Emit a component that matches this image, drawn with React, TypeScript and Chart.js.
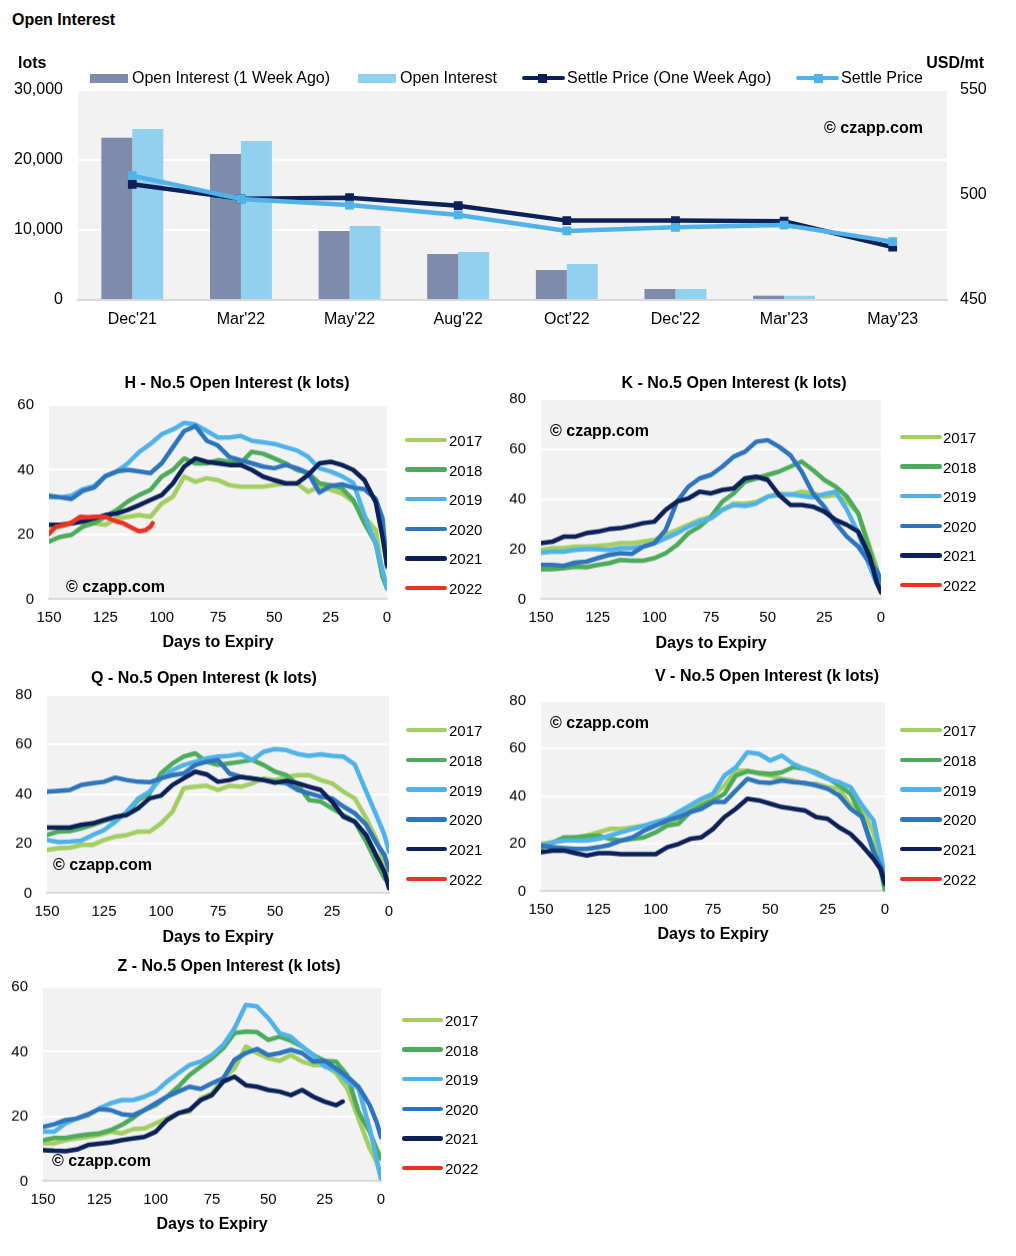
import React, { useEffect, useRef } from 'react';
import { Chart, registerables } from 'chart.js';

Chart.register(...registerables);

const FONT = "'Liberation Sans', Arial, Helvetica, sans-serif";
Chart.defaults.font.family = FONT;
Chart.defaults.color = '#000';

// ---------- Top chart data ----------
const contracts = ["Dec'21", "Mar'22", "May'22", "Aug'22", "Oct'22", "Dec'22", "Mar'23", "May'23"];
const oiWeekAgo = [23190, 20860, 9860, 6570, 4290, 1570, 620, 140];
const oiNow = [24430, 22710, 10570, 6860, 5140, 1570, 600, 140];
const settleWeekAgo = [505.1, 498.2, 498.7, 494.9, 487.8, 487.8, 487.5, 475.2];
const settleNow = [509.2, 498.1, 495.2, 490.5, 482.9, 484.6, 485.7, 477.8];

// ---------- Seasonal panels data ----------
const years = ['2017', '2018', '2019', '2020', '2021', '2022'];
const yearColors = ['#a3cf62', '#4eab5b', '#4fb3ea', '#2e75bd', '#0b2158', '#ec3323'];
const DAYS = [150, 145, 140, 135, 130, 125, 120, 115, 110, 105, 100, 95, 90, 85, 80, 75, 70, 65, 60, 55, 50, 45, 40, 35, 30, 25, 20, 15, 10, 5, 2, 0];

const H2017 = [21.4, 22.4, 23.5, 24, 23.5, 23, 25, 25.5, 26, 25.5, 29.6, 31.7, 37.9, 36.3, 37.4, 36.8, 35.3, 34.8, 34.8, 34.8, 35.3, 35.8, 35.8, 33.2, 34.8, 33.8, 32.7, 30.2, 25.5, 21.4, 8, 3.4];
const H2018 = [17.8, 19.3, 19.9, 22.4, 23.5, 25.5, 27.6, 30.2, 32.2, 33.8, 37.9, 40, 43.5, 42, 42, 43, 42.5, 42, 45.6, 45, 43.5, 42, 40, 39, 35.8, 35.3, 34.3, 30.7, 23.5, 17.3, 7, 3.4];
const H2019 = [31.5, 31.5, 32, 34, 35, 38, 39.5, 42, 45.5, 48, 51, 52.5, 54.5, 54, 52, 50, 50, 50.5, 49, 48.5, 48, 47, 46, 44, 40.5, 39.5, 38, 36, 26, 17, 9, 3.5];
const H2020 = [32, 31.5, 31, 33.5, 34.5, 38, 39.5, 40, 39.5, 39, 42, 47, 52, 53.5, 49, 47.5, 44, 43, 42, 41, 40.5, 41.5, 40.5, 39, 33, 35, 35.5, 34.5, 34, 31, 25, 10];
const H2021 = [23, 23, 23.5, 24, 25, 26, 26.5, 27.6, 29.1, 30.7, 32.2, 35.8, 41, 43.5, 42.5, 42, 41.5, 41.5, 40, 37.9, 36.8, 35.8, 35.8, 38.4, 42, 42.5, 41.5, 40, 36.8, 30, 19.3, 10.6];
const H2022_DAYS = [150, 147, 143, 140, 136, 133, 130, 125, 120, 117, 113, 110, 107, 105, 104];
const H2022 = [20.2, 22.4, 23, 23.7, 25.5, 25.3, 25.5, 25.5, 24, 23.5, 22, 21, 21.4, 22.4, 23.5];

const K2017 = [19.7, 20.4, 20.4, 21, 21, 21.3, 21.7, 22.4, 22.4, 23, 23.7, 25.7, 27.7, 29.7, 31.7, 33, 35.7, 38.3, 38.3, 39, 41, 42.3, 41.7, 43, 42.3, 41, 41.7, 39, 34.3, 21, 13, 5];
const K2018 = [12, 12, 12.4, 13, 12.8, 13.7, 14.4, 15.7, 15.4, 15.4, 16.4, 18.4, 21.7, 26.4, 29, 33, 39, 42.3, 47, 48.3, 49.7, 51, 53, 55, 51.6, 47.7, 45, 41, 34.3, 19.7, 10.4, 6.4];
const K2019 = [18.6, 19, 19, 19.7, 20, 20, 19.7, 20.4, 20.4, 21, 22.4, 24.4, 26.4, 29, 31, 32.3, 35.7, 37.7, 37.3, 38.3, 41, 41.7, 42, 41.3, 40.7, 42, 43, 35.7, 26.4, 13, 6.4, 3.7];
const K2020 = [13.7, 13.7, 13.3, 14.6, 15, 16.4, 17.7, 18.4, 18.1, 21, 22.4, 27.7, 39, 45, 48.3, 49.7, 53, 57, 59, 63, 63.6, 61, 57.6, 51, 42.3, 37, 30.4, 25, 21, 14.4, 11.7, 7.7];
const K2021 = [22.4, 23, 25, 25, 26.4, 27, 28, 28.4, 29.3, 30.4, 31, 35.7, 39, 40.3, 43, 42.3, 43.7, 44.3, 48.3, 49, 47.7, 41.7, 37.7, 37.7, 37, 35, 31.7, 29.7, 27, 17, 7, 2.7];

const Q2017 = [17.5, 18.2, 18.4, 19.5, 19.5, 21.5, 22.9, 23.5, 24.9, 24.9, 28.2, 32.9, 42.4, 43, 43.4, 41.7, 43.4, 43, 44.4, 46.4, 45.7, 47, 47.7, 47.7, 45.7, 44.4, 41, 38.3, 30.3, 20.8, 11.4, 6];
const Q2018 = [23.5, 24.9, 25.1, 26.2, 27.6, 29.2, 30.3, 32.3, 37.6, 40.3, 48.4, 52.4, 55.2, 56.5, 53.1, 51.8, 52.4, 53.1, 53.8, 51.8, 49.1, 47.7, 43.7, 37.6, 37, 34.3, 31.6, 28.9, 20.8, 11.4, 6, 4];
const Q2019 = [21.5, 20.6, 20.8, 21.2, 23.5, 25.5, 28.9, 32.9, 38.3, 41, 46.4, 49.7, 51.8, 53.1, 54.5, 55.2, 55.5, 56.2, 53.8, 57.1, 58.2, 57.8, 56.2, 55.5, 56.1, 55.5, 55.2, 52, 41, 30.3, 23.5, 16.8];
const Q2020 = [41, 41.3, 41.7, 43.7, 44.4, 45, 46.7, 45.7, 45, 44.8, 46.4, 47.7, 48.4, 51.8, 53.1, 53.8, 48.4, 47, 46.4, 45.7, 45, 44.4, 41.7, 40.3, 39, 38.3, 35, 32.3, 27.6, 19.5, 15.5, 9.4];
const Q2021 = [26.5, 26.5, 26.5, 27.6, 28.2, 29.6, 30.9, 31.6, 34.3, 38.3, 39.4, 43.7, 46.4, 49.1, 48, 45, 45.7, 47, 46.4, 45.7, 44.6, 45.4, 44.4, 43, 41.7, 37, 30.9, 28.9, 23.5, 14.1, 8.7, 2];

const V2017 = [19.9, 20.6, 21.3, 22.7, 23.4, 24.8, 26.2, 26.2, 26.9, 27.6, 27.9, 29.1, 30.5, 34.7, 37.5, 40.3, 44.5, 50.8, 50.8, 49.4, 48.7, 47.3, 46.6, 45.2, 45.2, 43.8, 43.1, 36.1, 34.7, 24.8, 12.2, 5.2];
const V2018 = [18.1, 20.4, 22.7, 22.7, 23.2, 23.4, 22, 21.3, 22, 22.7, 24.8, 27.6, 28.4, 33.3, 36.1, 38.2, 41, 48.7, 50.4, 49.8, 49.4, 50, 52.2, 51.5, 50, 47.6, 44.5, 41, 31.2, 17.8, 9.4, 0.3];
const V2019 = [19.2, 20.6, 21.3, 21.3, 21.3, 22, 23.4, 24.8, 26.2, 27.6, 29.1, 30.5, 33.3, 36.1, 38.9, 41, 48.7, 52.2, 58.5, 57.8, 55, 57.1, 53.6, 51.5, 49.4, 47.3, 45.9, 43.8, 36.1, 29.8, 16.4, 5.2];
const V2020 = [19.2, 18.5, 18.1, 17.8, 17.8, 18.5, 19.5, 21.3, 22.7, 25.5, 27.6, 29.8, 31.2, 33.3, 34.7, 37.5, 37.5, 42.4, 47.3, 45.9, 45.6, 46.6, 45.9, 45.6, 44.5, 43.1, 40.3, 34.7, 31.2, 16.4, 10.8, 5.2];
const V2021 = [16.4, 17.1, 17.1, 16, 15, 16, 16, 15.6, 15.6, 15.6, 15.6, 18.5, 19.9, 22, 22.7, 26.2, 31.2, 34.7, 38.9, 38.2, 36.8, 35.4, 34.7, 34, 31.2, 30.5, 26.9, 24.1, 19.2, 13.6, 9.4, 3.1];

const Z2017 = [11.7, 11.7, 12.7, 13.2, 13.7, 14.3, 15.3, 14.8, 16.1, 16.3, 17.9, 19.4, 21, 21.5, 25.6, 27.2, 31.8, 34.9, 41.6, 39.6, 38, 37.2, 39, 37, 35.9, 35.9, 33.4, 28.7, 19.4, 10.1, 6, 1.3];
const Z2018 = [12.7, 13.4, 13.4, 14, 14.5, 14.8, 15.8, 17.4, 19.6, 22, 23.5, 26.1, 29.2, 32.8, 35.4, 38, 41.1, 45.8, 46.3, 46.1, 43.7, 44.7, 43.4, 41.6, 39, 37.2, 37, 32.8, 21.5, 15.3, 10.1, 7];
const Z2019 = [15.3, 15.3, 17.9, 19.4, 20.4, 22.5, 24.1, 25.1, 25.1, 26.1, 27.7, 30.8, 33.4, 35.9, 37, 39, 42.1, 47.3, 54.5, 54, 50.4, 45.8, 44.7, 41.6, 39, 35.4, 34.4, 30.8, 28.7, 16.3, 7, 0.8];
const Z2020 = [16.8, 17.6, 18.9, 19.4, 20.7, 22.3, 22, 20.7, 20.4, 22, 24.1, 26.1, 27.7, 29.2, 28.5, 30.3, 31.8, 37.5, 39.6, 40.9, 39, 39.6, 40.6, 39.6, 37, 37.2, 34.9, 32.3, 29.2, 23.5, 18.4, 13.7];
const Z2021_DAYS = [150, 145, 140, 135, 130, 125, 120, 115, 110, 105, 100, 95, 90, 85, 80, 75, 70, 65, 60, 55, 50, 45, 40, 35, 30, 25, 20, 17];
const Z2021 = [9.6, 9.4, 9.3, 9.8, 11.2, 11.6, 12, 12.7, 13.2, 13.7, 15.3, 18.9, 21, 22, 25.1, 26.6, 30.8, 32.3, 29.7, 29.2, 28.2, 27.7, 26.6, 28.2, 26.1, 24.6, 23.5, 24.6];

type Series = { days: number[]; values: number[] } | null;
const toPts = (s: Series) => (s ? s.values.map((v, i) => ({ x: s.days[i], y: v })) : []);

const bgPlugin = {
  id: 'plotBg',
  beforeDraw(chart: any) {
    const { ctx, chartArea } = chart;
    if (!chartArea) return;
    ctx.save();
    ctx.fillStyle = '#f2f2f2';
    ctx.fillRect(chartArea.left, chartArea.top, chartArea.right - chartArea.left, chartArea.bottom - chartArea.top);
    ctx.restore();
  },
};

const Txt: React.FC<{ x: number; y: number; anchor?: 'left' | 'center' | 'right'; size?: number; bold?: boolean; children: React.ReactNode }> = ({ x, y, anchor = 'left', size = 15, bold = false, children }) => {
  const tx = anchor === 'left' ? '0' : anchor === 'center' ? '-50%' : '-100%';
  return (
    <div
      style={{
        position: 'absolute',
        left: x,
        top: y,
        transform: `translate(${tx}, -50%)`,
        fontSize: size,
        fontWeight: bold ? 'bold' : 'normal',
        fontFamily: FONT,
        lineHeight: 1,
        whiteSpace: 'nowrap',
        color: '#000',
      }}
    >
      {children}
    </div>
  );
};

function TopChart() {
  const ref = useRef<HTMLCanvasElement>(null);
  // chart area (page): left 78, right 947, top 90, bottom 300
  const padTop = 28;
  const canvasTop = 90 - padTop;
  const xAxisH = 36;
  const h = padTop + 210 + xAxisH;
  useEffect(() => {
    if (!ref.current) return;
    const chart = new Chart(ref.current, {
      type: 'bar',
      data: {
        labels: contracts,
        datasets: [
          { type: 'line', label: 'Settle Price', data: settleNow, yAxisID: 'y1', borderColor: '#4fb3ea', backgroundColor: '#4fb3ea', borderWidth: 4.5, pointStyle: 'rect', pointRadius: 6.2, pointBorderWidth: 0, tension: 0, order: 0 },
          { type: 'line', label: 'Settle Price (One Week Ago)', data: settleWeekAgo, yAxisID: 'y1', borderColor: '#0b2158', backgroundColor: '#0b2158', borderWidth: 4.5, pointStyle: 'rect', pointRadius: 6.2, pointBorderWidth: 0, tension: 0, order: 1 },
          { type: 'bar', label: 'Open Interest (1 Week Ago)', data: oiWeekAgo, yAxisID: 'y', backgroundColor: '#7f8bab', categoryPercentage: 0.57, barPercentage: 1, order: 2 },
          { type: 'bar', label: 'Open Interest', data: oiNow, yAxisID: 'y', backgroundColor: '#92d0ef', categoryPercentage: 0.57, barPercentage: 1, order: 2 },
        ] as any,
      },
      options: {
        animation: false,
        responsive: false,
        events: [],
        layout: { padding: { top: padTop, left: 0, right: 0, bottom: 0 } },
        plugins: { legend: { display: false }, tooltip: { enabled: false }, title: { display: false } },
        scales: {
          x: {
            grid: { display: false, drawTicks: false },
            border: { display: true, color: '#d9d9d9', width: 2 },
            ticks: { font: { size: 16 }, padding: 10, color: '#000', maxRotation: 0 },
            afterFit: (s: any) => { s.height = xAxisH; },
          },
          y: {
            position: 'left',
            min: 0,
            max: 30000,
            ticks: { stepSize: 10000, font: { size: 16 }, padding: 15, color: '#000', callback: (v: any) => Number(v).toLocaleString('en-US') },
            grid: { color: (c: any) => (c.tick && c.tick.value === 0 ? 'rgba(0,0,0,0)' : '#ffffff'), lineWidth: 2, drawTicks: false },
            border: { display: false },
            afterFit: (s: any) => { s.width = 78; },
          },
          y1: {
            position: 'right',
            min: 450,
            max: 550,
            ticks: { stepSize: 50, font: { size: 16 }, padding: 13, color: '#000' },
            grid: { display: false, drawTicks: false },
            border: { display: false },
            afterFit: (s: any) => { s.width = 1016 - 947; },
          },
        },
      } as any,
      plugins: [bgPlugin],
    });
    return () => chart.destroy();
  }, []);
  return <canvas ref={ref} width={1016} height={h} style={{ position: 'absolute', left: 0, top: canvasTop, width: 1016, height: h }} />;
}

type PanelProps = {
  title: string;
  plot: { l: number; r: number; t: number; b: number };
  yMax: number;
  titleX: number;
  titleY: number;
  axisTitleY: number;
  legend: { x0: number; x1: number; tx: number; y0: number; y1: number };
  copy: { x: number; y: number };
  series: Series[];
};

function Panel(p: PanelProps) {
  const ref = useRef<HTMLCanvasElement>(null);
  const yAxisW = 45;
  const padTop = 28;
  const padRight = 90;
  const padBottom = 4;
  const xAxisH = p.axisTitleY - p.plot.b + 9.6;
  const cw = yAxisW + (p.plot.r - p.plot.l) + padRight;
  const ch = padTop + (p.plot.b - p.plot.t) + xAxisH + padBottom;
  const cl = p.plot.l - yAxisW;
  const ct = p.plot.t - padTop;
  useEffect(() => {
    if (!ref.current) return;
    const datasets = p.series
      .map((s, i) => ({ s, i }))
      .filter(({ s }) => s !== null)
      .map(({ s, i }) => ({
        label: years[i],
        data: toPts(s),
        borderColor: yearColors[i],
        backgroundColor: yearColors[i],
        borderWidth: 4.5,
        pointRadius: 0,
        tension: 0,
        fill: false,
        borderCapStyle: 'round',
        borderJoinStyle: 'round',
        order: 5 - i,
      }));
    const chart = new Chart(ref.current, {
      type: 'line',
      data: { datasets: datasets as any },
      options: {
        animation: false,
        responsive: false,
        events: [],
        layout: { padding: { top: padTop, right: padRight, bottom: padBottom, left: 0 } },
        plugins: { legend: { display: false }, tooltip: { enabled: false }, title: { display: false } },
        scales: {
          x: {
            type: 'linear',
            reverse: true,
            min: 0,
            max: 150,
            ticks: { stepSize: 25, font: { size: 15 }, padding: 9, color: '#000', maxRotation: 0 },
            grid: { display: false, drawTicks: false },
            border: { display: true, color: '#d9d9d9', width: 2 },
            title: { display: true, text: 'Days to Expiry', font: { size: 16, weight: 'bold' }, color: '#000', padding: { top: 0, bottom: 0 } },
            afterFit: (s: any) => { s.height = xAxisH; },
          },
          y: {
            min: 0,
            max: p.yMax,
            ticks: { stepSize: 20, font: { size: 15 }, padding: 15, color: '#000' },
            grid: { color: (c: any) => (c.tick && c.tick.value === 0 ? 'rgba(0,0,0,0)' : '#ffffff'), lineWidth: 2, drawTicks: false },
            border: { display: false },
            afterFit: (s: any) => { s.width = yAxisW; },
          },
        },
      } as any,
      plugins: [bgPlugin],
    });
    return () => chart.destroy();
  }, []);
  const step = (p.legend.y1 - p.legend.y0) / 5;
  return (
    <>
      <canvas ref={ref} width={cw} height={ch} style={{ position: 'absolute', left: cl, top: ct, width: cw, height: ch }} />
      <Txt x={p.titleX} y={p.titleY} anchor="center" size={16} bold>{p.title}</Txt>
      <Txt x={p.copy.x} y={p.copy.y} size={16} bold>© czapp.com</Txt>
      {years.map((yr, i) => {
        const y = p.legend.y0 + step * i;
        return (
          <React.Fragment key={yr}>
            <div style={{ position: 'absolute', left: p.legend.x0, top: y - 2.25, width: p.legend.x1 - p.legend.x0, height: 4.5, borderRadius: 2.25, background: yearColors[i] }} />
            <Txt x={p.legend.tx} y={y} size={15}>{yr}</Txt>
          </React.Fragment>
        );
      })}
    </>
  );
}

const S = (days: number[], values: number[]): Series => ({ days, values });

export default function App() {
  return (
    <div style={{ position: 'absolute', left: 0, top: 0, width: 1016, height: 1256, background: '#fff', fontFamily: FONT, overflow: 'hidden' }}>
      <TopChart />
      <Txt x={12} y={20} size={16} bold>Open Interest</Txt>
      <Txt x={18} y={63} size={16} bold>lots</Txt>
      <Txt x={984} y={63} anchor="right" size={16} bold>USD/mt</Txt>
      {/* top legend */}
      <div style={{ position: 'absolute', left: 90, top: 74, width: 38, height: 8.5, background: '#7f8bab' }} />
      <Txt x={132} y={78} size={16}>Open Interest (1 Week Ago)</Txt>
      <div style={{ position: 'absolute', left: 358, top: 74, width: 38, height: 8.5, background: '#92d0ef' }} />
      <Txt x={400} y={78} size={16}>Open Interest</Txt>
      <div style={{ position: 'absolute', left: 522, top: 75.8, width: 43, height: 4.5, borderRadius: 2, background: '#0b2158' }} />
      <div style={{ position: 'absolute', left: 537.5, top: 73.6, width: 9, height: 9, background: '#0b2158' }} />
      <Txt x={567} y={78} size={16}>Settle Price (One Week Ago)</Txt>
      <div style={{ position: 'absolute', left: 796, top: 75.8, width: 43, height: 4.5, borderRadius: 2, background: '#4fb3ea' }} />
      <div style={{ position: 'absolute', left: 813.5, top: 73.6, width: 9, height: 9, background: '#4fb3ea' }} />
      <Txt x={841} y={78} size={16}>Settle Price</Txt>
      <Txt x={824} y={128} size={16} bold>© czapp.com</Txt>

      <Panel
        title="H - No.5 Open Interest (k lots)"
        plot={{ l: 49, r: 387, t: 405, b: 599 }}
        yMax={60}
        titleX={237}
        titleY={383}
        axisTitleY={642}
        legend={{ x0: 405, x1: 447, tx: 449, y0: 440, y1: 588 }}
        copy={{ x: 66, y: 587 }}
        series={[S(DAYS, H2017), S(DAYS, H2018), S(DAYS, H2019), S(DAYS, H2020), S(DAYS, H2021), S(H2022_DAYS, H2022)]}
      />
      <Panel
        title="K - No.5 Open Interest (k lots)"
        plot={{ l: 541, r: 881, t: 399, b: 599 }}
        yMax={80}
        titleX={734}
        titleY={383}
        axisTitleY={643}
        legend={{ x0: 900, x1: 942, tx: 943, y0: 437, y1: 585 }}
        copy={{ x: 550, y: 431 }}
        series={[S(DAYS, K2017), S(DAYS, K2018), S(DAYS, K2019), S(DAYS, K2020), S(DAYS, K2021), null]}
      />
      <Panel
        title="Q - No.5 Open Interest (k lots)"
        plot={{ l: 47, r: 389, t: 695, b: 893 }}
        yMax={80}
        titleX={204}
        titleY={678}
        axisTitleY={937}
        legend={{ x0: 406, x1: 447, tx: 449, y0: 730, y1: 879 }}
        copy={{ x: 53, y: 865 }}
        series={[S(DAYS, Q2017), S(DAYS, Q2018), S(DAYS, Q2019), S(DAYS, Q2020), S(DAYS, Q2021), null]}
      />
      <Panel
        title="V - No.5 Open Interest (k lots)"
        plot={{ l: 541, r: 885, t: 701, b: 891 }}
        yMax={80}
        titleX={767}
        titleY={676}
        axisTitleY={934}
        legend={{ x0: 900, x1: 942, tx: 943, y0: 730, y1: 879 }}
        copy={{ x: 550, y: 723 }}
        series={[S(DAYS, V2017), S(DAYS, V2018), S(DAYS, V2019), S(DAYS, V2020), S(DAYS, V2021), null]}
      />
      <Panel
        title="Z - No.5 Open Interest (k lots)"
        plot={{ l: 43, r: 381, t: 987, b: 1181 }}
        yMax={60}
        titleX={229}
        titleY={966}
        axisTitleY={1224}
        legend={{ x0: 402, x1: 443, tx: 445, y0: 1020, y1: 1168 }}
        copy={{ x: 52, y: 1161 }}
        series={[S(DAYS, Z2017), S(DAYS, Z2018), S(DAYS, Z2019), S(DAYS, Z2020), S(Z2021_DAYS, Z2021), null]}
      />
    </div>
  );
}
